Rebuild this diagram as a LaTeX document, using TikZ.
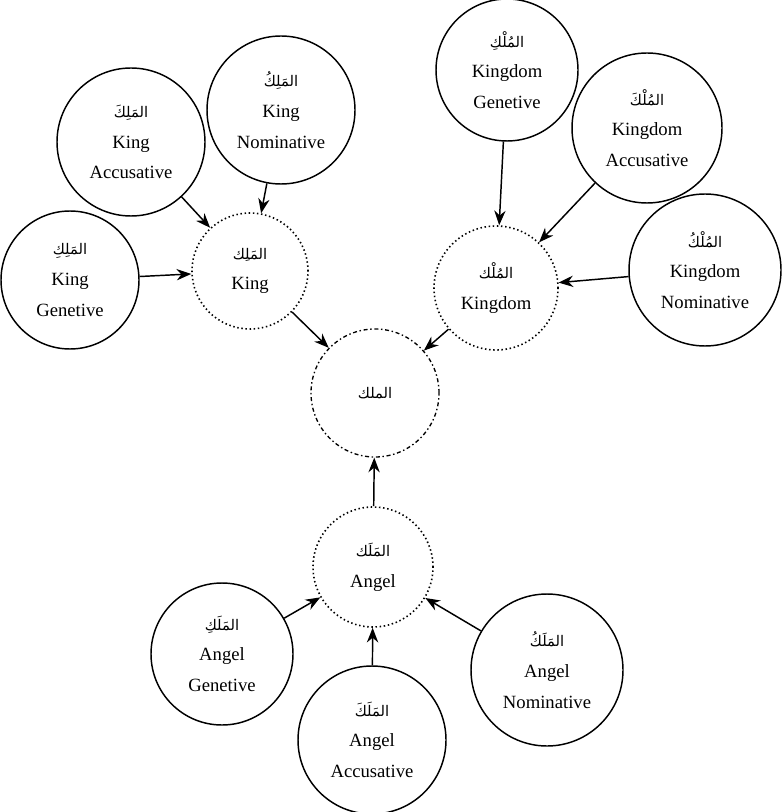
\documentclass[tikz,border=0pt]{standalone}
\usepackage{fontspec}
\setmainfont{Liberation Serif}
\newfontfamily\arabicfont[Script=Arabic]{DejaVu Sans}
\TeXXeTstate=1
\usetikzlibrary{arrows.meta}
\newcommand{\arword}[1]{{\arabicfont\fontsize{11}{13}\selectfont\beginR #1\endR}}
\tikzset{
    form/.style={circle, draw, line width=1.1pt, inner sep=0pt, minimum size={1.5pt*#1},
        align=center, font=\fontsize{14}{23}\selectfont},
    lemma/.style={form=#1, dotted, line width=1.2pt},
    root/.style={form=#1, dash dot, line width=1pt},
    link/.style={line width=1.1pt, -{Stealth[length=11pt, width=8.5pt]}},
}

\begin{document}
\begin{tikzpicture}[x=0.75pt, y=-0.75pt]
    \useasboundingbox (0,0) rectangle (782,812);
    % root word
    \node[root=64] (root) at (375,393) {\arword{الملك}};
    % King
    \node[lemma=58] (king) at (250,271) {\arword{المَلِك}\\King};
    \node[form=74] (kingacc) at (131,142) {\arword{المَلِكَ}\\King\\Accusative};
    \node[form=74] (kingnom) at (281,110) {\arword{المَلِكُ}\\King\\Nominative};
    \node[form=69] (kinggen) at (70,280) {\arword{المَلِكِ}\\King\\Genetive};
    % Kingdom
    \node[lemma=62] (kingdom) at (496,288) {\arword{المُلْك}\\Kingdom};
    \node[form=71] (kdmgen) at (507,70) {\arword{المُلْكِ}\\Kingdom\\Genetive};
    \node[form=75] (kdmacc) at (647,128) {\arword{المُلْكَ}\\Kingdom\\Accusative};
    \node[form=76] (kdmnom) at (705,270) {\arword{المُلْكُ}\\Kingdom\\Nominative};
    % Angel
    \node[lemma=60] (angel) at (373,567) {\arword{المَلَك}\\Angel};
    \node[form=71] (angelgen) at (222,654) {\arword{المَلَكِ}\\Angel\\Genetive};
    \node[form=74] (angelacc) at (372,740) {\arword{المَلَكَ}\\Angel\\Accusative};
    \node[form=76] (angelnom) at (547,670) {\arword{المَلَكُ}\\Angel\\Nominative};

    \draw[link] (kingacc) -- (king);
    \draw[link] (kingnom) -- (king);
    \draw[link] (kinggen) -- (king);
    \draw[link] (kdmgen) -- (kingdom);
    \draw[link] (kdmacc) -- (kingdom);
    \draw[link] (kdmnom) -- (kingdom);
    \draw[link] (angelgen) -- (angel);
    \draw[link] (angelacc) -- (angel);
    \draw[link] (angelnom) -- (angel);
    \draw[link] (king) -- (root);
    \draw[link] (kingdom) -- (root);
    \draw[link] (angel) -- (root);
\end{tikzpicture}
\end{document}
